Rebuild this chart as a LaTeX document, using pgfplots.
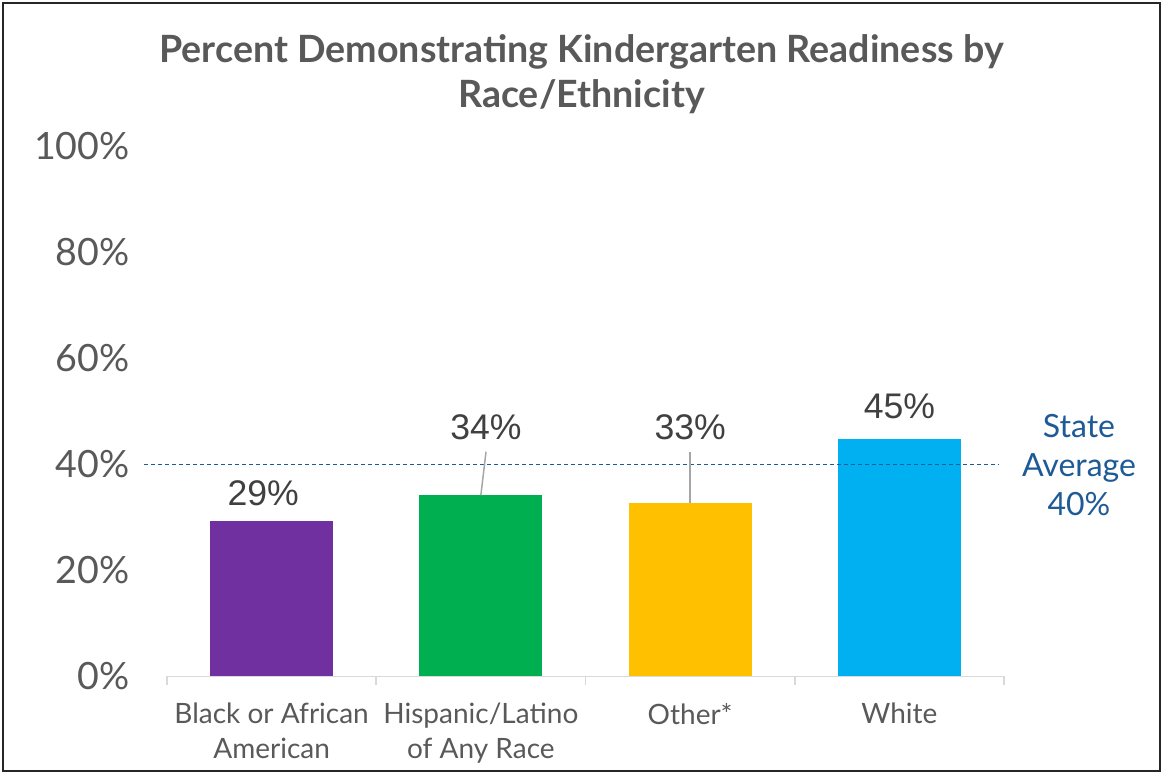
\documentclass[border=0pt]{standalone}
\usepackage{pgfplots}
\pgfplotsset{compat=1.18}
\usepackage{fontspec}
\setmainfont{Lato}
\newfontfamily\labelfont{Liberation Sans}

\definecolor{txtgray}{HTML}{595959}
\definecolor{lblgray}{HTML}{404040}
\definecolor{axgray}{HTML}{D9D9D9}
\definecolor{leadgray}{HTML}{A6A6A6}
\definecolor{avgblue}{HTML}{1D5A96}
\definecolor{cPurple}{HTML}{7030A0}
\definecolor{cGreen}{HTML}{00B050}
\definecolor{cYellow}{HTML}{FFC000}
\definecolor{cBlue}{HTML}{00B0F0}

\begin{document}
\begin{tikzpicture}
\begin{axis}[
    at={(0,0)}, anchor=south west,
    scale only axis,
    width=418.5pt, height=265pt,
    xmin=-0.5, xmax=3.5,
    ymin=0, ymax=100,
    clip=false,
    axis x line*=bottom,
    axis y line*=left,
    x axis line style={draw=axgray, line width=0.9pt},
    y axis line style={draw=none},
    xtick={0,1,2,3},
    xticklabels={Black or African\\American, Hispanic/Latino\\of Any Race, Other*, White},
    minor xtick={-0.5,0.5,1.5,2.5,3.5},
    major tick length=0pt,
    minor tick length=4.5pt,
    tick align=outside,
    minor tick style={draw=axgray, line width=0.9pt},
    ytick={0,20,40,60,80,100},
    yticklabel={\pgfmathprintnumber{\tick}\%},
    /pgf/number format/assume math mode=true,
    yticklabel style={font=\fontsize{18.8}{20}\selectfont, text=txtgray, anchor=east, inner sep=0pt, xshift=-18.5pt},
    xticklabel style={font=\fontsize{14}{17.3}\selectfont, text=txtgray, align=center, anchor=north, inner sep=0pt, yshift=-13.2pt},
]
% bars
\addplot[ybar, bar width=61.5pt, bar shift=0pt, fill=cPurple, draw=none] coordinates {(0,29.3)};
\addplot[ybar, bar width=61.5pt, bar shift=0pt, fill=cGreen, draw=none] coordinates {(1,34.2)};
\addplot[ybar, bar width=61.5pt, bar shift=0pt, fill=cYellow, draw=none] coordinates {(2,32.7)};
\addplot[ybar, bar width=61.5pt, bar shift=0pt, fill=cBlue, draw=none] coordinates {(3,44.8)};
% state average
\addplot[sharp plot, avgblue, line width=0.6pt, dash pattern=on 2pt off 1.5pt] coordinates {(-0.61,40) (3.476,40)};
% leader lines
\addplot[sharp plot, leadgray, line width=0.75pt] coordinates {(1.0245,42.4) (1.0,34.2)};
\addplot[sharp plot, leadgray, line width=0.75pt] coordinates {(2.0,42.4) (2.0,32.7)};
% data labels
\addplot[draw=none, mark=none, nodes near coords, point meta=explicit symbolic,
    every node near coord/.append style={anchor=center, inner sep=0pt, font=\labelfont\fontsize{17.8}{20}\selectfont, text=lblgray}]
    coordinates {(-0.04,34.6)[29\%] (1.0245,47.1)[34\%] (2.0,47.1)[33\%] (3.0,51.0)[45\%]};
\end{axis}
% title
\node[anchor=base, text=txtgray, font=\bfseries\fontsize{18.8}{22}\selectfont] at (207.25pt,306.9pt) {Percent Demonstrating Kindergarten Readiness by};
\node[anchor=base, text=txtgray, font=\bfseries\fontsize{18.8}{22}\selectfont] at (207.25pt,284.25pt) {Race/Ethnicity};
% state average text
\node[anchor=base, text=avgblue, font=\fontsize{16}{19.5}\selectfont] at (456pt,119.4pt) {State};
\node[anchor=base, text=avgblue, font=\fontsize{16}{19.5}\selectfont] at (456pt,99.85pt) {Average};
\node[anchor=base, text=avgblue, font=\fontsize{16}{19.5}\selectfont] at (456pt,80.25pt) {40\%};
% frame
\draw[black!85, line width=1pt] (-82pt,-47.25pt) rectangle (496.5pt,336.75pt);
\pgfresetboundingbox
\useasboundingbox (-83.5pt,-48.75pt) rectangle (498pt,338.25pt);
\end{tikzpicture}
\end{document}
